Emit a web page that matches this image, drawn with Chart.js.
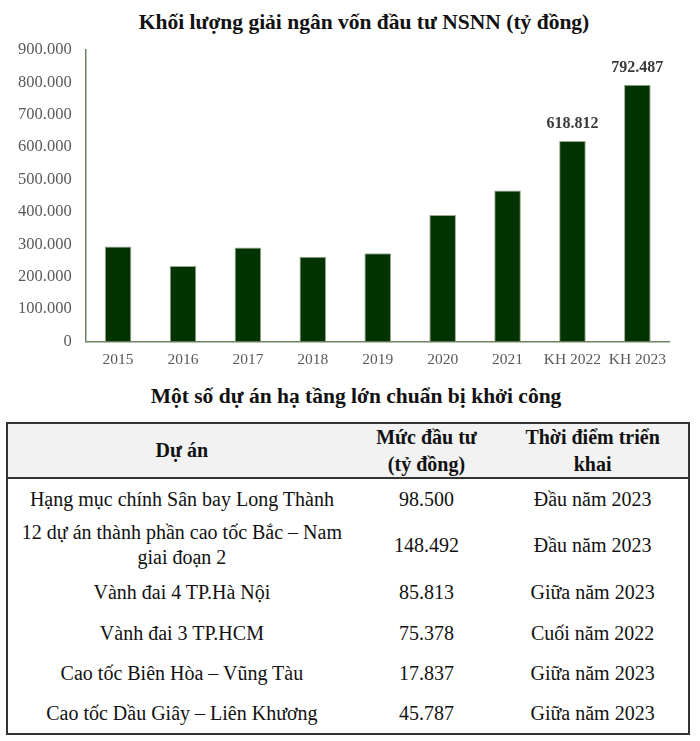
<!DOCTYPE html>
<html lang="vi">
<head>
<meta charset="utf-8">
<script src="https://cdn.jsdelivr.net/npm/chart.js@4"></script>
<style>
  body { margin: 0; background: #fff; font-family: 'Liberation Serif', serif; }
  #page { position: relative; width: 700px; height: 741px; }
  .title { position: absolute; left: 0; width: 700px; text-align: center; font-weight: bold; color: #111; box-sizing: border-box; }
  #chartTitle { top: 10px; font-size: 21.5px; padding-left: 28px; }
  #tableTitle { top: 384px; font-size: 21.5px; padding-left: 12px; }
  #chartBox { position: absolute; left: 0; top: 26px; width: 675px; height: 352px; }
  table { position: absolute; left: 6px; top: 422px; width: 684px; height: 308px;
          border-collapse: collapse; border: 2px solid #333; font-size: 20px; color: #111; }
  th { background: #f2f2f2; font-weight: bold; border-bottom: 2px solid #333; line-height: 26.5px; padding: 0; }
  td { text-align: center; padding: 0; line-height: 25px; }
</style>
</head>
<body>
<div id="page">
  <div class="title" id="chartTitle">Khối lượng giải ngân vốn đầu tư NSNN (tỷ đồng)</div>
  <div id="chartBox"><canvas id="disbursementChart"></canvas></div>
  <div class="title" id="tableTitle">Một số dự án hạ tầng lớn chuẩn bị khởi công</div>
  <table id="projectTable"></table>
</div>
<script>
// Chart data
const years = ['2015', '2016', '2017', '2018', '2019', '2020', '2021', 'KH 2022', 'KH 2023'];
const disbursed = [293000, 233000, 290000, 261000, 272000, 390000, 466000, 618812, 792487];
const labelledBars = ['KH 2022', 'KH 2023'];

// Table data
const tableHeaders = ['Dự án', 'Mức đầu tư<br>(tỷ đồng)', 'Thời điểm triển<br>khai'];
const projects = ['Hạng mục chính Sân bay Long Thành', '12 dự án thành phần cao tốc Bắc – Nam<br>giai đoạn 2', 'Vành đai 4 TP.Hà Nội', 'Vành đai 3 TP.HCM', 'Cao tốc Biên Hòa – Vũng Tàu', 'Cao tốc Dầu Giây – Liên Khương'];
const investments = ['98.500', '148.492', '85.813', '75.378', '17.837', '45.787'];
const startTimes = ['Đầu năm 2023', 'Đầu năm 2023', 'Giữa năm 2023', 'Cuối năm 2022', 'Giữa năm 2023', 'Giữa năm 2023'];
const rowHeights = [42, 50, 44, 39, 41, 40];

const fmt = v => v.toLocaleString('de-DE');

// Build the table
const colWidths = [350, 142, 192];
let html = '<tr>' + tableHeaders.map((h, i) => `<th style="width:${colWidths[i]}px">${h}</th>`).join('') + '</tr>';
projects.forEach((p, i) => {
  html += `<tr style="height:${rowHeights[i]}px"><td>${p}</td><td>${investments[i]}</td><td>${startTimes[i]}</td></tr>`;
});
document.getElementById('projectTable').innerHTML = html;

// Value labels above selected bars
const barLabels = {
  id: 'barLabels',
  afterDatasetsDraw(chart) {
    const ctx = chart.ctx;
    const meta = chart.getDatasetMeta(0);
    ctx.save();
    ctx.font = 'bold 16px "Liberation Serif"';
    ctx.fillStyle = '#3a3a3a';
    ctx.textAlign = 'center';
    ctx.textBaseline = 'bottom';
    meta.data.forEach((bar, i) => {
      if (labelledBars.includes(years[i])) {
        ctx.fillText(fmt(disbursed[i]), bar.x, bar.y - 9);
      }
    });
    ctx.restore();
  }
};

const axisColor = '#6f8360';

new Chart(document.getElementById('disbursementChart'), {
  type: 'bar',
  data: {
    labels: years,
    datasets: [{
      data: disbursed,
      backgroundColor: '#033203',
      borderColor: '#9aa98c',
      borderWidth: 1,
      barPercentage: 0.41,
      categoryPercentage: 1
    }]
  },
  options: {
    responsive: true,
    maintainAspectRatio: false,
    animation: false,
    layout: { padding: { top: 4, right: 0, left: 4, bottom: 0 } },
    plugins: { legend: { display: false }, tooltip: { enabled: false } },
    scales: {
      x: {
        grid: { display: false, drawTicks: false },
        border: { color: axisColor, width: 1.5 },
        ticks: { color: '#595959', font: { family: 'Liberation Serif', size: 15.5 }, padding: 9 }
      },
      y: {
        min: 0,
        max: 900000,
        grid: { display: false, drawTicks: false },
        border: { color: axisColor, width: 1.5 },
        ticks: { stepSize: 100000, color: '#595959', font: { family: 'Liberation Serif', size: 16.5 }, padding: 14, callback: v => fmt(v) }
      }
    }
  },
  plugins: [barLabels]
});
</script>
</body>
</html>
